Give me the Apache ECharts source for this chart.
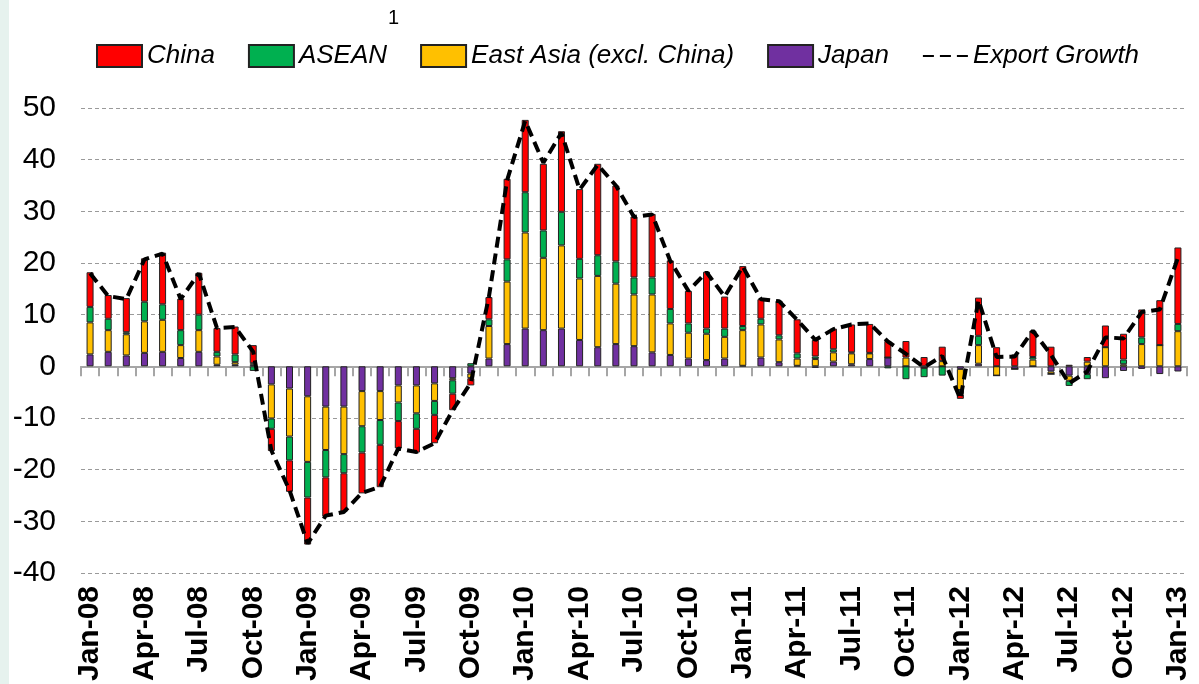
<!DOCTYPE html>
<html>
<head>
<meta charset="utf-8">
<script src="https://cdn.jsdelivr.net/npm/echarts@6/dist/echarts.min.js"></script>
<style>
  html, body { margin: 0; padding: 0; background: #fff; }
  #chart { width: 1199px; height: 684px; }
</style>
</head>
<body>
<div id="chart"></div>
<script>
var months = ['Jan-08','Feb-08','Mar-08','Apr-08','May-08','Jun-08','Jul-08','Aug-08','Sep-08','Oct-08','Nov-08','Dec-08',
  'Jan-09','Feb-09','Mar-09','Apr-09','May-09','Jun-09','Jul-09','Aug-09','Sep-09','Oct-09','Nov-09','Dec-09',
  'Jan-10','Feb-10','Mar-10','Apr-10','May-10','Jun-10','Jul-10','Aug-10','Sep-10','Oct-10','Nov-10','Dec-10',
  'Jan-11','Feb-11','Mar-11','Apr-11','May-11','Jun-11','Jul-11','Aug-11','Sep-11','Oct-11','Nov-11','Dec-11',
  'Jan-12','Feb-12','Mar-12','Apr-12','May-12','Jun-12','Jul-12','Aug-12','Sep-12','Oct-12','Nov-12','Dec-12',
  'Jan-13'];

var japan = [2.3,2.8,2.1,2.6,2.8,1.6,2.8,0.3,0.3,0.3,-3.5,-4.3,
  -5.8,-7.8,-7.8,-4.8,-4.8,-3.7,-3.7,-3.3,-2.3,-1.4,1.5,4.3,
  7.3,7.0,7.3,5.1,3.7,4.3,3.9,2.7,2.2,1.5,1.2,1.5,
  0.1,1.7,0.8,0.1,-0.3,0.9,0.4,1.4,1.7,0,-0.3,0,
  -0.5,0.5,0,-0.5,0,-1.0,-1.8,-1.5,-2.3,-0.9,-0.5,-1.5,
  -1.0];

var eastAsia = [6.2,4.2,4.1,6.1,6.2,2.5,4.2,1.6,0.5,0.3,-6.6,-9.3,
  -12.7,-8.4,-9.2,-6.8,-5.6,-3.3,-5.4,-3.4,-0.4,-0.9,6.3,12.1,
  18.6,14.0,16.1,11.9,13.8,11.7,10.0,11.2,6.1,5.0,5.1,4.2,
  6.9,6.4,4.4,1.4,1.4,1.8,2.1,1.1,0,1.7,0,1.0,
  -4.1,3.6,-1.8,0,1.3,-0.5,-1.0,0.9,3.7,0.4,4.3,4.1,
  6.8];

var asean = [3.0,2.2,0.4,3.8,3.0,2.9,3.0,0.9,1.5,-0.9,-2.0,-4.6,
  -6.9,-5.3,-3.7,-5.1,-4.8,-3.6,-3.0,-2.7,-2.6,0.6,1.3,4.3,
  7.8,5.3,6.5,3.8,4.0,4.3,3.3,3.3,2.8,1.8,1.0,1.6,
  0.8,1.1,0.8,1.0,0.5,0.6,0.2,0.1,-0.4,-2.5,-1.8,-1.8,
  -0.8,1.8,0,0,0.5,0,-1.0,-1.0,0,0.9,1.3,0,
  1.4];

var china = [6.7,4.6,6.6,8.4,10.0,6.1,8.1,4.6,5.4,3.5,-4.3,-6.1,
  -9.1,-7.6,-7.5,-7.9,-8.2,-5.3,-4.6,-5.5,-3.2,-1.4,4.3,15.6,
  14.0,12.9,15.6,13.5,17.7,14.7,11.8,12.3,9.4,6.3,11.0,6.2,
  11.6,3.8,6.7,6.6,3.2,4.0,5.4,5.6,3.2,3.2,1.8,2.8,
  -0.9,7.4,3.7,2.3,5.1,3.8,0.3,0.9,4.2,5.0,5.4,8.7,
  14.8];

var exportGrowth = [18.0,13.6,13.0,20.7,21.8,13.0,18.0,7.4,7.6,2.8,-16.3,-24.0,
  -34.3,-28.9,-28.2,-24.5,-23.3,-15.9,-16.6,-14.9,-8.5,-3.2,13.5,36.0,
  47.5,39.4,45.2,34.2,39.0,35.0,28.9,29.4,20.4,14.6,18.2,13.5,
  19.3,13.0,12.6,9.0,5.1,7.2,8.1,8.3,4.8,2.4,-0.2,2.0,
  -6.3,12.8,1.8,1.9,6.9,2.2,-3.3,-1.0,5.6,5.4,10.5,11.0,
  21.0];

var font = "'Liberation Sans', Arial, sans-serif";

function barSeries(name, data, color) {
  return {
    name: name,
    type: 'bar',
    stack: 'total',
    barWidth: 7,
    data: data,
    itemStyle: { color: color, borderColor: '#222', borderWidth: 1 }
  };
}

var chart = echarts.init(document.getElementById('chart'));
chart.setOption({
  animation: false,
  backgroundColor: '#fff',
  grid: { left: 81, right: 12, top: 108, bottom: 111 },
  legend: {
    left: 91,
    top: 38,
    itemWidth: 45,
    itemHeight: 22,
    itemGap: 33,
    data: [
      { name: 'China', icon: 'rect' },
      { name: 'ASEAN', icon: 'rect' },
      { name: 'East Asia (excl. China)', icon: 'rect' },
      { name: 'Japan', icon: 'rect' },
      { name: 'Export Growth', itemStyle: { opacity: 0 } }
    ],
    textStyle: { fontFamily: font, fontStyle: 'italic', fontSize: 26, color: '#000' }
  },
  graphic: [
    { type: 'rect', left: 0, top: 0, shape: { width: 9, height: 684 }, style: { fill: '#e6f2ee' } },
    { type: 'text', left: 388, top: 8, style: { text: '1', fontFamily: font, fontSize: 20, fill: '#000' } }
  ],
  xAxis: [
    {
      type: 'category',
      data: months,
      position: 'bottom',
      axisLine: { show: false, onZero: false },
      axisTick: { show: false },
      axisLabel: {
        interval: 2,
        rotate: 90,
        margin: 13,
        fontFamily: font,
        fontWeight: 'bold',
        fontSize: 30,
        color: '#000'
      }
    },
    {
      type: 'category',
      data: months,
      position: 'bottom',
      axisLine: { show: true, onZero: true, lineStyle: { color: '#a6a6a6', width: 2 } },
      axisTick: { show: true, interval: 0, length: 10, lineStyle: { color: '#a6a6a6', width: 2 } },
      axisLabel: { show: false }
    }
  ],
  yAxis: {
    type: 'value',
    min: -40,
    max: 50,
    interval: 10,
    axisLine: { show: false },
    axisTick: { show: false },
    axisLabel: { margin: 25, fontFamily: font, fontSize: 30, color: '#000' },
    splitLine: { lineStyle: { color: '#9a9a9a', type: [4, 3], width: 1 } }
  },
  series: [
    barSeries('Japan', japan, '#7030A0'),
    barSeries('East Asia (excl. China)', eastAsia, '#FFC000'),
    barSeries('ASEAN', asean, '#00B050'),
    barSeries('China', china, '#FF0000'),
    {
      name: 'Export Growth',
      type: 'line',
      data: exportGrowth,
      symbol: 'none',
      z: 5,
      itemStyle: { color: '#000' },
      lineStyle: { color: '#000', width: 4, type: [11, 6] }
    }
  ]
});
</script>
</body>
</html>
